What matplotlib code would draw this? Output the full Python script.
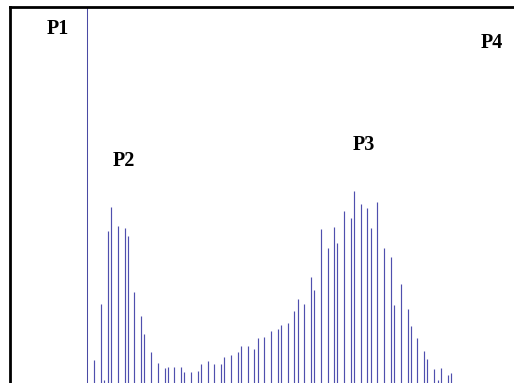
import matplotlib
matplotlib.use("Agg")
import matplotlib.pyplot as plt
import numpy as np

# peak positions (channel) and intensities
positions = [94.3, 101.3, 104.3, 108.3, 111.3, 117.7, 124.7, 128.0, 134.3, 140.7,
             144.3, 151.3, 157.7, 164.7, 167.7, 174.3, 180.7, 184.3, 191.0, 197.7,
             200.7, 207.7, 214.3, 221.3, 224.3, 231.3, 237.7, 241.0, 248.0, 254.3,
             257.7, 264.0, 270.7, 277.7, 280.7, 287.7, 294.3, 297.7, 304.3, 311.0,
             314.3, 321.0, 327.7, 334.0, 337.3, 344.0, 350.7, 354.3, 360.7, 367.3,
             370.7, 377.3, 384.0, 390.7, 394.0, 400.7, 407.7, 410.7, 417.3, 424.0,
             427.3, 434.3, 437.7, 440.7, 447.5, 450.7]
intensity = [23, 79, 3, 152, 176, 157, 155, 147, 91, 67,
             49, 31, 20, 15, 16, 16, 16, 11, 11, 12,
             19, 22, 19, 19, 26, 28, 31, 37, 37, 34,
             45, 46, 52, 54, 58, 60, 72, 84, 79, 106,
             93, 154, 135, 156, 140, 172, 165, 192, 179, 175,
             155, 181, 135, 126, 78, 99, 74, 57, 45, 32,
             24, 14, 3, 15, 8, 10]

marker_pos = 87.3
labels = ["P1", "P2", "P3", "P4"]
label_x = [57.5, 123.7, 363.5, 492.0]
label_y = [354, 222, 238, 340]

x_left, x_right = 9.7, 514
y_top = 375.7

fig = plt.figure(figsize=(5.14, 3.83), dpi=100)
ax = fig.add_axes([x_left / 514, 0, 1 - x_left / 514, y_top / 383])

ax.vlines(positions, 0, intensity, color="#4f4fae", linewidth=0.85)
ax.axvline(marker_pos, color="#4a4aa4", linewidth=0.75)

for lab, lx, ly in zip(labels, label_x, label_y):
    ax.text(lx, ly, lab, ha="center", va="center", fontsize=14.5,
            fontweight="bold", family="Liberation Serif")

ax.set_xlim(x_left, x_right)
ax.set_ylim(0, y_top)
ax.spines["right"].set_visible(False)
ax.spines["bottom"].set_visible(False)
ax.spines["top"].set_linewidth(2.0)
ax.spines["left"].set_linewidth(2.0)
ax.set_xticks([])
ax.set_yticks([])

fig.savefig("out.png", dpi=100)
